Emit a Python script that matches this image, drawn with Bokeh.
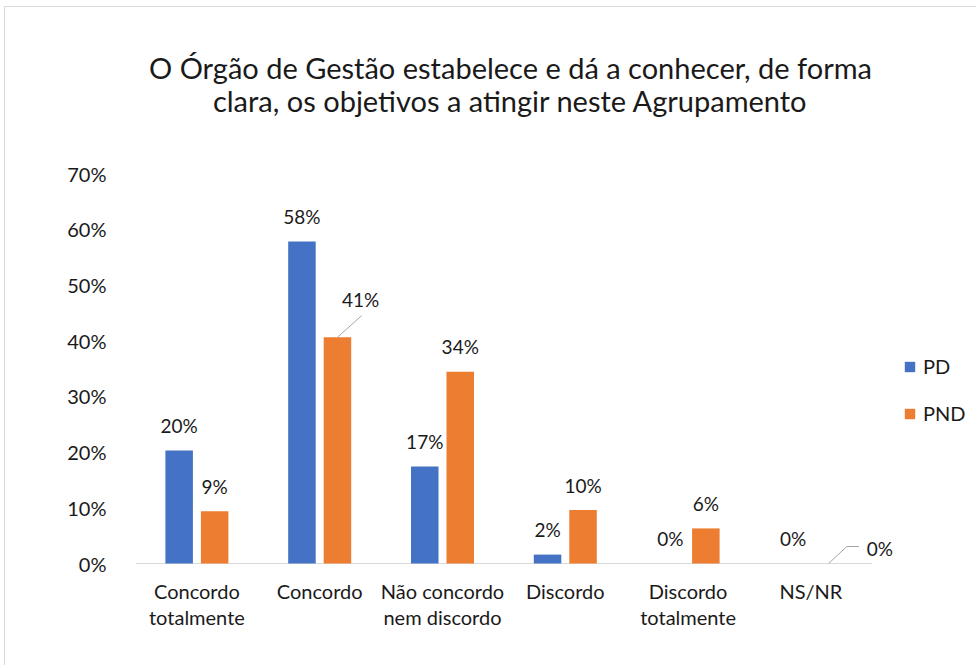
from bokeh.plotting import figure
from bokeh.models import (Range1d, FixedTicker, NumeralTickFormatter,
                          ColumnDataSource, Legend, LegendItem)
from bokeh.embed import file_html
from bokeh.resources import INLINE
from bokeh.core.properties import value

# ---- data ----
categories = ["Concordo totalmente", "Concordo", "Não concordo nem discordo",
              "Discordo", "Discordo totalmente", "NS/NR"]
category_labels = ["Concordo\ntotalmente", "Concordo", "Não concordo\nnem discordo",
                   "Discordo", "Discordo\ntotalmente", "NS/NR"]
pd_values = [0.203, 0.578, 0.174, 0.016, 0.0, 0.0]
pnd_values = [0.094, 0.406, 0.344, 0.096, 0.063, 0.0]
series_names = ["PD", "PND"]
y_ticks = [0.0, 0.1, 0.2, 0.3, 0.4, 0.5, 0.6, 0.7]
title_lines = ["O Órgão de Gestão estabelece e dá a conhecer, de forma",
               "clara, os objetivos a atingir neste Agrupamento"]

# ---- style / layout ----
FONT = "Lato"
BLUE = "#4472C4"
ORANGE = "#ED7D31"
TXT = "#1a1a1a"
GRAY = "#d9d9d9"
DODGE = 0.1445
BAR_W = 0.224
PX_Y = 557.14        # pixels per 1.0 on the y axis
PX_X = 122.8         # pixels per category
W, H = 972, 659
LEFT = 130
ZERO_Y = 556         # pixel row of the 0 line, from the top of the canvas
LABEL_UP = 25 / PX_Y

n = len(categories)
centers = [i + 0.5 for i in range(n)]

p = figure(x_range=Range1d(0, (W - LEFT) / PX_X),
           y_range=Range1d(-(H - ZERO_Y) / PX_Y, ZERO_Y / PX_Y),
           width=W, height=H, output_backend="svg", toolbar_location=None,
           min_border_left=LEFT, min_border_right=0, min_border_top=0,
           min_border_bottom=0)

p.title.visible = False
p.outline_line_color = None
p.xgrid.visible = False
p.ygrid.visible = False
p.xaxis.visible = False

p.yaxis.ticker = FixedTicker(ticks=y_ticks)
p.yaxis.formatter = NumeralTickFormatter(format="0%")
p.yaxis.axis_line_color = None
p.yaxis.major_tick_line_color = None
p.yaxis.minor_tick_line_color = None
p.yaxis.major_label_standoff = 23
p.yaxis.major_label_text_font = FONT
p.yaxis.major_label_text_font_size = "20px"
p.yaxis.major_label_text_color = TXT

# title (two centred lines)
p.text(x=[3.054, 3.054], y=[496 / PX_Y, 463 / PX_Y], text=title_lines,
       text_font=value(FONT), text_font_size="29px", text_align="center",
       text_baseline="middle", text_color=TXT)

# category baseline
p.segment(x0=[0], y0=[0], x1=[n], y1=[0], line_color=GRAY, line_width=1)

src = ColumnDataSource(dict(
    cat=categories,
    x_pd=[c - DODGE for c in centers], x_pnd=[c + DODGE for c in centers],
    pd=pd_values, pnd=pnd_values))
r_pd = p.vbar(x="x_pd", top="pd", width=BAR_W, source=src,
              fill_color=BLUE, line_color=None)
r_pnd = p.vbar(x="x_pnd", top="pnd", width=BAR_W, source=src,
               fill_color=ORANGE, line_color=None)

# category labels (two lines)
line1 = [c.split("\n")[0] for c in category_labels]
line2 = [c.split("\n")[1] if "\n" in c else "" for c in category_labels]
p.text(x=centers, y=[-27 / PX_Y] * n, text=line1, text_font=value(FONT),
       text_font_size="20px", text_align="center", text_baseline="middle", text_color=TXT)
p.text(x=centers, y=[-53 / PX_Y] * n, text=line2, text_font=value(FONT),
       text_font_size="20px", text_align="center", text_baseline="middle", text_color=TXT)

# ---- data labels ----
def fmt(v):
    return f"{round(v * 100)}%"

lab_x, lab_y, lab_t = [], [], []
for i, v in enumerate(pd_values):
    lab_x.append(centers[i] - DODGE)
    lab_y.append(v + LABEL_UP)
    lab_t.append(fmt(v))
# PND labels that were moved (drawn with leader lines)
moved = {1: (0.334, 0.068), 5: (0.562, 0.027)}
leaders_x, leaders_y = [], []
for i, v in enumerate(pnd_values):
    bx = centers[i] + DODGE
    if i in moved:
        dx, dy = moved[i]
        lab_x.append(centers[i] + dx)
        lab_y.append(v + dy)
        if i == 1:
            leaders_x.append([bx, centers[i] + 0.342])
            leaders_y.append([v, v + 0.039])
        else:
            leaders_x.append([bx, centers[i] + 0.293, centers[i] + 0.391])
            leaders_y.append([v, v + 0.0305, v + 0.0305])
    else:
        lab_x.append(bx)
        lab_y.append(v + LABEL_UP)
    lab_t.append(fmt(v))

p.multi_line(xs=leaders_x, ys=leaders_y, line_color="#a6a6a6", line_width=1)
p.text(x=lab_x, y=lab_y, text=lab_t, text_font=value(FONT), text_font_size="19px",
       text_align="center", text_baseline="middle", text_color=TXT)

legend = Legend(items=[LegendItem(label=series_names[0], renderers=[r_pd]),
                       LegendItem(label=series_names[1], renderers=[r_pnd])],
                location=(768, 241), orientation="vertical",
                glyph_width=13, glyph_height=13, label_height=22, label_standoff=7,
                spacing=23, padding=0, margin=0,
                label_text_font=FONT, label_text_font_size="20px", label_text_color=TXT,
                border_line_color=None, background_fill_alpha=0)
p.add_layout(legend, "center")

p.styles = {"margin-left": "4px", "margin-top": "6px",
            "border-left": f"1px solid {GRAY}", "border-top": f"1px solid {GRAY}"}

open("out.html", "w").write(file_html(p, INLINE))
